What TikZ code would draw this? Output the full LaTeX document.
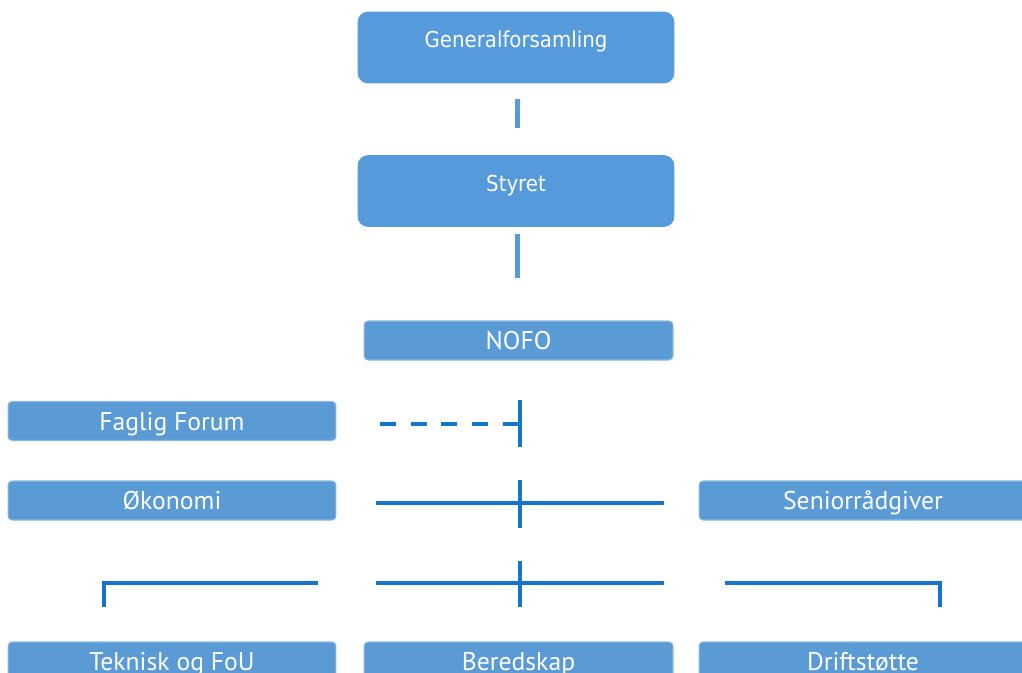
\documentclass[tikz,border=0pt]{standalone}
\usepackage{fontspec}
\usepackage{tikz}
\usetikzlibrary{arrows,shapes}
\newfontfamily\topfont{DejaVu Sans Condensed}
\newfontfamily\unitfont{PT Sans}
\definecolor{boxblue}{RGB}{85,154,219}
\definecolor{unitblue}{RGB}{91,155,213}
\definecolor{wireblue}{RGB}{22,116,204}
\tikzstyle{topbox}=[rectangle,rounded corners=0.2cm,fill=boxblue,draw=unitblue,text=white,minimum width=6.32cm,minimum height=1.42cm,inner sep=0pt,font=\topfont\fontsize{12.5pt}{14pt}\selectfont,text height=0.3cm,text depth=0.3cm]
\tikzstyle{unitbox}=[rectangle,rounded corners=0.08cm,fill=unitblue,draw=unitblue!70!white,line width=0.6pt,text=white,minimum width=6.56cm,minimum height=0.78cm,inner sep=0pt,font=\unitfont\fontsize{14.6pt}{17pt}\selectfont,text height=0.36cm,text depth=0pt]
\tikzstyle{bar} = [draw=unitblue,line width=0.1cm,-]
\tikzstyle{wire} = [draw=wireblue,line width=0.08cm,-]

\begin{document}
\begin{tikzpicture}[x=0.02cm,y=-0.02cm]
      \useasboundingbox (0,0) rectangle (1022,673);
      \node[topbox] (gen) at (516,47.5) {Generalforsamling};
      \node[topbox] (sty) at (516,191) {Styret};
      \node[unitbox,minimum width=6.18cm] (nofo) at (518.5,340.5) {NOFO};
      \node[unitbox] (fag) at (172,421) {Faglig Forum};
      \node[unitbox] (oko) at (172,500.5) {Økonomi};
      \node[unitbox] (sen) at (863,500.5) {Seniorrådgiver};
      \node[unitbox] (tek) at (172,661.5) {Teknisk og FoU};
      \node[unitbox,minimum width=6.18cm] (ber) at (518.5,661.5) {Beredskap};
      \node[unitbox] (dri) at (863,661.5) {Driftstøtte};
      % connector ends
      \coordinate (g1) at (517,99);
      \coordinate (g2) at (517,128);
      \coordinate (s1) at (517,234);
      \coordinate (s2) at (517,278);
      \coordinate (f1) at (380,424);
      \coordinate (f2) at (520,424);
      \coordinate (f3) at (520,400);
      \coordinate (f4) at (520,447);
      \coordinate (o1) at (376,503);
      \coordinate (o2) at (664,503);
      \coordinate (o3) at (520,480);
      \coordinate (o4) at (520,528);
      \coordinate (t1) at (104,607);
      \coordinate (t2) at (104,583);
      \coordinate (t3) at (318,583);
      \coordinate (b1) at (376,583);
      \coordinate (b2) at (664,583);
      \coordinate (b3) at (520,561);
      \coordinate (b4) at (520,607);
      \coordinate (d1) at (725,583);
      \coordinate (d2) at (940,583);
      \coordinate (d3) at (940,607);
      \draw[bar] (g1) to (g2);
      \draw[bar] (s1) to (s2);
      \draw[wire,dash pattern=on 0.32cm off 0.294cm] (f1) to (f2);
      \draw[wire] (f3) to (f4);
      \draw[wire] (o1) to (o2);
      \draw[wire] (o3) to (o4);
      \draw[wire] (t1) -- (t2) -- (t3);
      \draw[wire] (b1) to (b2);
      \draw[wire] (b3) to (b4);
      \draw[wire] (d1) -- (d2) -- (d3);
    \end{tikzpicture}
\end{document}
